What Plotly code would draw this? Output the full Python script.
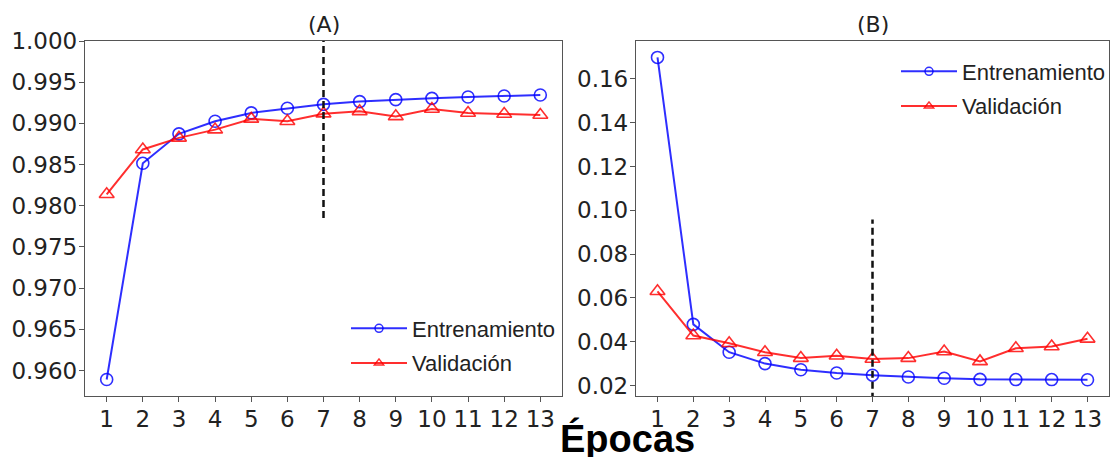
import plotly.graph_objects as go

# ---------------- data ----------------
epochs = list(range(1, 14))
acc_train = [0.9589, 0.98515, 0.98873, 0.99026, 0.99127, 0.99183, 0.99231,
             0.99264, 0.99288, 0.99304, 0.99320, 0.99332, 0.99344]
acc_val = [0.98139, 0.98683, 0.98824, 0.98924, 0.99054, 0.99025, 0.99118,
           0.99146, 0.99085, 0.99175, 0.99126, 0.99114, 0.99102]
loss_train = [0.1698, 0.0479, 0.0352, 0.0300, 0.0272, 0.0257, 0.0247,
              0.0239, 0.0233, 0.0228, 0.0227, 0.0227, 0.0226]
loss_val = [0.0630, 0.0428, 0.0393, 0.0352, 0.0325, 0.0336, 0.0321,
            0.0325, 0.0355, 0.0310, 0.0370, 0.0378, 0.0413]
best_epoch = 7
acc_marker_span = [0.9785, 1.0]
loss_marker_span = [0.0135, 0.0958]

acc_yticks = [0.960, 0.965, 0.970, 0.975, 0.980, 0.985, 0.990, 0.995, 1.000]
acc_yticklabels = ["0.960", "0.965", "0.970", "0.975", "0.980", "0.985", "0.990", "0.995", "1.000"]
loss_yticks = [0.02, 0.04, 0.06, 0.08, 0.10, 0.12, 0.14, 0.16]
loss_yticklabels = ["0.02", "0.04", "0.06", "0.08", "0.10", "0.12", "0.14", "0.16"]
xticklabels = [str(e) for e in epochs]

series_names = ["Entrenamiento", "Validación"]
panel_titles = ["(A)", "(B)"]
x_title = "Épocas"

# ---------------- styles ----------------
BLUE = "rgba(0,0,255,0.82)"
RED = "rgba(255,0,0,0.82)"
TICK_FONT = dict(family="DejaVu Sans", size=23, color="#222")
LEG_FONT = dict(family="Liberation Sans", size=22, color="#222")
AXCOL = "#555"

fig = go.Figure()


def add_panel(xa, ya, train, val, legend, tag):
    fig.add_trace(go.Scatter(
        x=epochs, y=train, mode="lines+markers", xaxis=xa, yaxis=ya,
        line=dict(color=BLUE, width=2),
        marker=dict(symbol="circle-open", size=12, color=BLUE, line=dict(width=1.6, color=BLUE)),
        showlegend=False, cliponaxis=False))
    fig.add_trace(go.Scatter(
        x=epochs, y=val, mode="lines+markers", xaxis=xa, yaxis=ya,
        line=dict(color=RED, width=2),
        marker=dict(symbol="triangle-up-open", size=13, color=RED, line=dict(width=1.6, color=RED)),
        showlegend=False, cliponaxis=False))
    # legend-only entries (smaller markers like the reference legend)
    fig.add_trace(go.Scatter(
        x=[None], y=[None], mode="lines+markers", xaxis=xa, yaxis=ya,
        name=series_names[0], legend=legend, legendgroup=tag + "t",
        line=dict(color=BLUE, width=2),
        marker=dict(symbol="circle-open", size=8, color=BLUE, line=dict(width=1.5, color=BLUE))))
    fig.add_trace(go.Scatter(
        x=[None], y=[None], mode="lines+markers", xaxis=xa, yaxis=ya,
        name=series_names[1], legend=legend, legendgroup=tag + "v",
        line=dict(color=RED, width=2),
        marker=dict(symbol="triangle-up-open", size=8, color=RED, line=dict(width=1.5, color=RED))))


add_panel("x", "y", acc_train, acc_val, "legend", "a")
add_panel("x2", "y2", loss_train, loss_val, "legend2", "b")

# best-epoch dashed lines
fig.add_shape(type="line", xref="x", yref="y", x0=best_epoch, x1=best_epoch,
              y0=acc_marker_span[0], y1=acc_marker_span[1],
              line=dict(color="#111", width=2.5, dash="7px,4px"))
fig.add_shape(type="line", xref="x2", yref="y2", x0=best_epoch, x1=best_epoch,
              y0=loss_marker_span[0], y1=loss_marker_span[1],
              line=dict(color="#111", width=2.5, dash="7px,4px"))

W, H = 1112, 457
top, bottom = 41, 396
ydom = [1 - bottom / H, 1 - top / H]

common_x = dict(range=[0.4, 13.6], tickmode="array", tickvals=epochs, ticktext=xticklabels,
                ticks="outside", ticklen=5, tickwidth=1.2, tickcolor=AXCOL,
                showline=True, linecolor=AXCOL, linewidth=1.3, mirror=True,
                showgrid=False, zeroline=False, tickfont=TICK_FONT, automargin=False,
                ticklabelstandoff=-3)
common_y = dict(ticks="outside", ticklen=5, tickwidth=1.2, tickcolor=AXCOL,
                showline=True, linecolor=AXCOL, linewidth=1.3, mirror=True,
                showgrid=False, zeroline=False, tickfont=TICK_FONT, automargin=False,
                domain=ydom, ticklabelstandoff=-3)

fig.update_layout(
    width=W, height=H,
    margin=dict(l=0, r=0, t=0, b=0),
    paper_bgcolor="white", plot_bgcolor="white",
    xaxis=dict(common_x, domain=[85 / W, 562 / W], anchor="y"),
    yaxis=dict(common_y, range=[0.9569, 1.0], tickmode="array",
               tickvals=acc_yticks, ticktext=acc_yticklabels, anchor="x"),
    xaxis2=dict(common_x, domain=[636 / W, 1109 / W], anchor="y2"),
    yaxis2=dict(common_y, range=[0.0152, 0.1773], tickmode="array",
                tickvals=loss_yticks, ticktext=loss_yticklabels, anchor="x2"),
    legend=dict(x=346 / W, y=1 - 346 / H, xanchor="left", yanchor="middle", xref="paper", yref="paper",
                bgcolor="rgba(0,0,0,0)", font=LEG_FONT, itemwidth=56, tracegroupgap=3),
    legend2=dict(x=896 / W, y=1 - 89 / H, xanchor="left", yanchor="middle", xref="paper", yref="paper",
                 bgcolor="rgba(0,0,0,0)", font=LEG_FONT, itemwidth=56, tracegroupgap=3),
)

for xd, yd, title in zip(["x domain", "x2 domain"], ["y domain", "y2 domain"], panel_titles):
    fig.add_annotation(text=title, xref=xd, yref=yd, x=0.5, y=1, xanchor="center",
                       yanchor="bottom", yshift=2, showarrow=False,
                       font=dict(family="DejaVu Sans", size=22, color="#222"))

fig.add_annotation(text="<b>" + x_title + "</b>", xref="paper", yref="paper",
                   x=627 / W, y=1 - 438 / H, xanchor="center", yanchor="middle",
                   showarrow=False, font=dict(family="Liberation Sans", size=38, color="black"))

fig.write_html("out.html", config={"displayModeBar": False},
               post_script="document.body.style.margin='0';")
